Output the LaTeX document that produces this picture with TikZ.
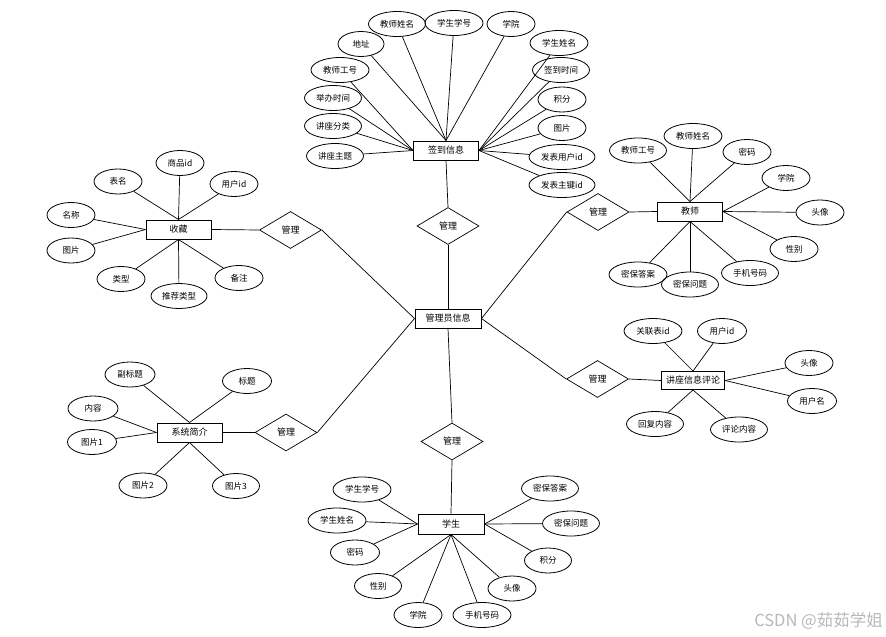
\documentclass[tikz,border=0pt]{standalone}
\usepackage{fontspec}
\setmainfont{Noto Sans CJK SC}
\usetikzlibrary{shapes.geometric}
\tikzset{
  attr/.style={ellipse, draw, line width=0.8pt, minimum width=#1, minimum height=25, inner sep=0pt, font=\fontsize{8.5}{9}\selectfont},
  attr/.default=48,
  ent/.style={rectangle, draw, line width=1pt, minimum width=65, minimum height=19, inner sep=0pt, font=\fontsize{9}{10}\selectfont},
  rel/.style={diamond, draw, line width=0.7pt, minimum width=62, minimum height=37, inner sep=0pt, font=\fontsize{9}{10}\selectfont},
  conn/.style={draw, line width=0.7pt}
}
\begin{document}
\begin{tikzpicture}[x=1pt,y=-1pt]
\useasboundingbox (0,0) rectangle (886,637);
% ===== central =====
\node[ent, minimum width=66] (gly) at (448,318.5) {管理员信息};
% ===== 签到信息 =====
\node[ent] (qd) at (446,150.5) {签到信息};
\node[attr=57] (q1) at (397,24) {教师姓名};
\node[attr=58] (q2) at (454,23) {学生学号};
\node[attr] (q3) at (511,24) {学院};
\node[attr=46] (q4) at (361,44) {地址};
\node[attr=58] (q5) at (559,43) {学生姓名};
\node[attr=58] (q6) at (340,70) {教师工号};
\node[attr=57] (q7) at (561,70) {签到时间};
\node[attr=57] (q8) at (333,98) {举办时间};
\node[attr] (q9) at (562,99.5) {积分};
\node[attr=57] (q10) at (333,126) {讲座分类};
\node[attr] (q11) at (562,128) {图片};
\node[attr=57] (q12) at (335,156) {讲座主题};
\node[attr=66] (q13) at (562,157) {发表用户id};
\node[attr=66] (q14) at (562,185) {发表主键id};
\foreach \a in {q1,q2,q3,q4} \draw[conn] (\a) -- (qd.north);
\foreach \a in {q6,q8,q10,q12} \draw[conn] (\a) -- (qd.west);
\foreach \a in {q5,q7,q9,q11,q13,q14} \draw[conn] (\a) -- (qd.east);
\node[rel] (m1) at (448,226) {管理};
\draw[conn] (qd.south) -- (m1.north);
\draw[conn] (m1.south) -- (gly.north);
% ===== 收藏 =====
\node[ent] (sc) at (178.5,229.5) {收藏};
\node[attr] (s1) at (180,163) {商品id};
\node[attr] (s2) at (118,181.5) {表名};
\node[attr] (s3) at (234,184) {用户id};
\node[attr] (s4) at (71,215) {名称};
\node[attr] (s5) at (71,250.5) {图片};
\node[attr] (s6) at (121,279) {类型};
\node[attr=56] (s7) at (179,296) {推荐类型};
\node[attr] (s8) at (239,278) {备注};
\foreach \a in {s1,s2,s3} \draw[conn] (\a) -- (sc.north);
\foreach \a in {s4,s5} \draw[conn] (\a) -- (sc.west);
\foreach \a in {s6,s7,s8} \draw[conn] (\a) -- (sc.south);
\node[rel] (m2) at (290.5,230) {管理};
\draw[conn] (sc.east) -- (m2.west);
\draw[conn] (m2.east) -- (gly.west);
% ===== 教师 =====
\node[ent] (js) at (690,211.5) {教师};
\node[attr=57] (t1) at (638,150.5) {教师工号};
\node[attr=58] (t2) at (693,136) {教师姓名};
\node[attr] (t3) at (747,152) {密码};
\node[attr] (t4) at (786,178) {学院};
\node[attr] (t5) at (820,212.5) {头像};
\node[attr] (t6) at (794,249) {性别};
\node[attr=57] (t7) at (750,273) {手机号码};
\node[attr=57] (t8) at (690,284.5) {密保问题};
\node[attr=58] (t9) at (638,274.5) {密保答案};
\foreach \a in {t1,t2,t3} \draw[conn] (\a) -- (js.north);
\foreach \a in {t4,t5,t6} \draw[conn] (\a) -- (js.east);
\foreach \a in {t7,t8,t9} \draw[conn] (\a) -- (js.south);
\node[rel] (m3) at (598,212) {管理};
\draw[conn] (m3.east) -- (js.west);
\draw[conn] (m3.west) -- (gly.east);
% ===== 讲座信息评论 =====
\node[ent, minimum width=63, minimum height=18] (pl) at (693,380.5) {讲座信息评论};
\node[attr=58] (p1) at (653,331) {关联表id};
\node[attr=49] (p2) at (722,331) {用户id};
\node[attr] (p3) at (809,363) {头像};
\node[attr=49] (p4) at (812,401) {用户名};
\node[attr=57] (p5) at (655,424) {回复内容};
\node[attr=57] (p6) at (739,429.5) {评论内容};
\foreach \a in {p1,p2} \draw[conn] (\a) -- (pl.north);
\foreach \a in {p3,p4} \draw[conn] (\a) -- (pl.east);
\foreach \a in {p5,p6} \draw[conn] (\a) -- (pl.south);
\node[rel] (m4) at (597.5,379) {管理};
\draw[conn] (m4.east) -- (pl.west);
\draw[conn] (m4.west) -- (gly.east);
% ===== 系统简介 =====
\node[ent] (xt) at (189.5,432.5) {系统简介};
\node[attr=50] (x1) at (130,374.5) {副标题};
\node[attr=49] (x2) at (247,381) {标题};
\node[attr=50] (x3) at (93,408.5) {内容};
\node[attr=49] (x4) at (92,442) {图片1};
\node[attr] (x5) at (143,485.5) {图片2};
\node[attr=47] (x6) at (236,486) {图片3};
\foreach \a in {x1,x2} \draw[conn] (\a) -- (xt.north);
\foreach \a in {x3,x4} \draw[conn] (\a) -- (xt.west);
\foreach \a in {x5,x6} \draw[conn] (\a) -- (xt.south);
\node[rel] (m6) at (286,432.5) {管理};
\draw[conn] (xt.east) -- (m6.west);
\draw[conn] (m6.east) -- (gly.west);
% ===== 学生 =====
\node[rel] (m5) at (452,441.5) {管理};
\draw[conn] (gly.south) -- (m5.north);
\node[ent, minimum width=66, minimum height=20] (xs) at (451,524) {学生};
\draw[conn] (m5.south) -- (xs.north);
\node[attr=58] (u1) at (362,489.5) {学生学号};
\node[attr=58] (u2) at (337,520.5) {学生姓名};
\node[attr=49] (u3) at (355,552.5) {密码};
\node[attr=47] (u4) at (378,586) {性别};
\node[attr] (u5) at (418,615) {学院};
\node[attr=58] (u6) at (482,615) {手机号码};
\node[attr] (u7) at (512,588.5) {头像};
\node[attr=47] (u8) at (548,560.5) {积分};
\node[attr=57] (u9) at (571,523.5) {密保问题};
\node[attr=57] (u10) at (550,488.5) {密保答案};
\foreach \a in {u1,u2,u3} \draw[conn] (\a) -- (xs.west);
\foreach \a in {u4,u5,u6,u7} \draw[conn] (\a) -- (xs.south);
\foreach \a in {u8,u9,u10} \draw[conn] (\a) -- (xs.east);
% ===== watermark =====
\node[anchor=east, text=black!28, font=\fontsize{16.5}{17}\selectfont, inner sep=0pt] (wm) at (883,621) {CSDN @茹茹学姐};
\end{tikzpicture}
\end{document}
